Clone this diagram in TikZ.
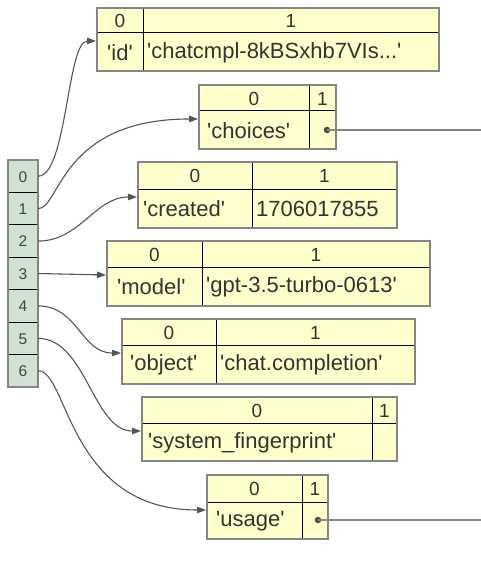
\documentclass[tikz,border=0pt]{standalone}
\usepackage{fontspec}
\setmainfont{Liberation Sans}
\usetikzlibrary{arrows.meta,calc}
\definecolor{boxfill}{HTML}{FFFFCC}
\definecolor{boxedge}{HTML}{858585}
\definecolor{listfill}{HTML}{D0E2D2}
\definecolor{txt}{HTML}{333333}
\definecolor{celltxtc}{HTML}{444444}
\definecolor{edgec}{HTML}{555555}
\newcommand\qq{\textquotesingle}
\tikzset{
  tbox/.style={draw=boxedge, line width=2pt, fill=boxfill, inner sep=0pt, outer sep=0pt, anchor=north west},
  lstbox/.style={draw=boxedge, line width=2pt, fill=listfill, inner sep=0pt, outer sep=0pt, anchor=north west},
  divline/.style={draw=black, line width=1pt},
  celltxt/.style={font=\fontsize{15.5}{17}\selectfont, text=celltxtc, inner sep=0pt},
  hdr/.style={font=\fontsize{19}{21}\selectfont, text=txt, inner sep=0pt},
  bod/.style={font=\fontsize{22}{24}\selectfont, text=txt, inner sep=0pt, anchor=west},
  link/.style={draw=edgec, line width=1.1pt, -{Triangle[length=9pt,width=6.5pt]}},
  dotn/.style={circle, fill=edgec!90!black, inner sep=0pt, minimum size=6.5pt},
  tail/.style={draw=boxedge, line width=1.6pt},
}
% name, x1, y1, x2, y2, header-y, column-x, key, value
\newcommand\mytbl[9]{%
  \node[tbox, minimum width={(#4-#2)*1pt}, minimum height={(#5-#3)*1pt}] (#1) at (#2,#3) {};
  \draw[divline] (#2+1,#6) -- (#4-1,#6);
  \draw[divline] (#7,#3+1) -- (#7,#5-1);
  \node[hdr] (#1-h0) at ({(#2+#7)/2},{(#3+#6)/2+0.5}) {0};
  \node[hdr] (#1-h1) at ({(#7+#4)/2},{(#3+#6)/2+0.5}) {1};
  \node[bod] (#1-k) at ({#2+\kpad},{(#6+#5)/2+0.5}) {#8};
  \node[bod] (#1-v) at ({#7+4},{(#6+#5)/2+0.5}) {#9};
  \coordinate (#1-in) at (#2-1,#6+8);
}
\newcommand\kpad{8}
\begin{document}
\begin{tikzpicture}[x=1pt,y=-1pt]
\useasboundingbox (0,0) rectangle (481,572);
% list
\node[lstbox, minimum width=30pt, minimum height=227pt] (lst) at (8,160) {};
\foreach \i in {1,...,6}{
  \draw[divline] (9,{160+32.43*\i}) -- (37,{160+32.43*\i});
}
\foreach \i in {0,...,6}{
  \node[celltxt] (c\i) at (23,{160+32.43*(\i+0.5)+0.5}) {\i};
  \coordinate (c\i-out) at (38,{160+32.43*(\i+0.5)});
}
% tables
\renewcommand\kpad{10}
\mytbl{b1}{97}{8}{439}{71}{33}{143}{\qq id\qq}{\qq chatcmpl-8kBSxhb7VIs...\qq}
\renewcommand\kpad{8}
\mytbl{b2}{199}{85}{336}{149}{111}{309}{\qq choices\qq}{}
\renewcommand\kpad{5}
\mytbl{b3}{138}{162}{397}{228}{189}{252}{\qq created\qq}{1706017855}
\renewcommand\kpad{10}
\mytbl{b4}{107}{241}{430}{306}{267}{202}{\qq model\qq}{\qq gpt-3.5-turbo-0613\qq}
\renewcommand\kpad{8}
\mytbl{b5}{122}{319}{415}{384}{345}{216}{\qq object\qq}{\qq chat.completion\qq}
\renewcommand\kpad{6}
\mytbl{b6}{142}{397}{397}{461}{423}{372}{\qq system\_fingerprint\qq}{}
\renewcommand\kpad{9}
\mytbl{b7}{207}{475}{328}{539}{502}{302}{\qq usage\qq}{}
% dots and tails
\node[dotn] (d2) at (327,130) {};
\coordinate (t2) at (481,130);
\draw[tail] (d2.center) -- (t2);
\node[dotn] (d7) at (318,520) {};
\coordinate (t7) at (481,520);
\draw[tail] (d7.center) -- (t7);
% links
\draw[link] (c0-out) .. controls +(29,0) and +(-29,0) .. (b1-in);
\draw[link] (c1-out) .. controls (60,209) and (60,119) .. (b2-in);
\draw[link] (c2-out) .. controls +(42,0) and +(-42,0) .. (b3-in);
\draw[link] (c3-out) -- (b4-in);
\draw[link] (c4-out) .. controls +(40,0) and +(-40,0) .. (b5-in);
\draw[link] (c5-out) .. controls +(48,0) and +(-48,0) .. (b6-in);
\draw[link] (c6-out) .. controls (68,370) and (68,510) .. (b7-in);
\end{tikzpicture}
\end{document}
